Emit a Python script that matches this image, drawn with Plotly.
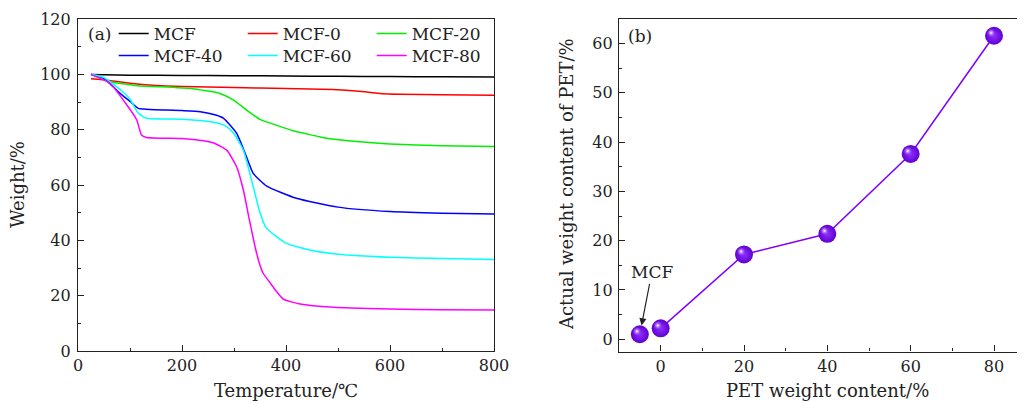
import plotly.graph_objects as go

# ---------------- data: panel (a) TGA curves ----------------
T_MCF = [25, 100, 200, 300, 400, 500, 600, 700, 800]
W_MCF = [99.9, 99.7, 99.6, 99.5, 99.4, 99.3, 99.2, 99.1, 99.0]

T_MCF0 = [25, 60, 100, 150, 200, 300, 400, 490, 540, 580, 620, 700, 800]
W_MCF0 = [98.4, 97.8, 96.8, 96.0, 95.6, 95.2, 94.9, 94.5, 93.9, 93.1, 92.8, 92.6, 92.4]

T_MCF20 = [25, 62, 100, 119, 160, 220, 273, 300, 324, 350, 380, 414, 478, 542, 600, 700, 800]
W_MCF20 = [100, 97.3, 96.2, 95.8, 95.5, 94.8, 93.1, 90.6, 87.1, 83.7, 81.7, 79.6, 76.9, 75.6, 74.8, 74.2, 73.9]

T_MCF40 = [25, 50, 81, 100, 116, 130, 200, 235, 265, 280, 305, 324, 337, 363, 420, 500, 600, 700, 800]
W_MCF40 = [100, 98.5, 93.1, 90.2, 87.7, 87.4, 86.9, 86.5, 85.3, 84.1, 78.7, 70.2, 64.2, 59.6, 55.2, 52.0, 50.4, 49.8, 49.5]

T_MCF60 = [25, 50, 81, 100, 116, 132, 200, 240, 270, 286, 300, 318, 330, 337, 350, 362, 400, 450, 500, 600, 700, 800]
W_MCF60 = [100, 98.8, 94.5, 91.0, 85.9, 84.1, 83.8, 83.2, 82.3, 81.1, 78.5, 72.6, 64.5, 59.4, 50.0, 44.5, 39.0, 36.3, 35.0, 33.9, 33.4, 33.1]

T_MCF80 = [25, 62, 94, 113, 122, 132, 200, 230, 260, 286, 305, 318, 330, 342, 350, 356, 370, 382, 395, 427, 491, 600, 700, 800]
W_MCF80 = [100, 96.7, 88.9, 83.5, 78.1, 77.2, 76.8, 76.3, 75.3, 72.6, 66.6, 58.2, 47.0, 36.5, 31.0, 28.1, 24.5, 21.4, 18.7, 17.0, 15.8, 15.2, 14.9, 14.8]

series_names = ["MCF", "MCF-0", "MCF-20", "MCF-40", "MCF-60", "MCF-80"]
series_T = [T_MCF, T_MCF0, T_MCF20, T_MCF40, T_MCF60, T_MCF80]
series_W = [W_MCF, W_MCF0, W_MCF20, W_MCF40, W_MCF60, W_MCF80]
series_colors = ["#000000", "#ff0000", "#00f000", "#0000ff", "#00ffff", "#ff00ff"]

# ---------------- data: panel (b) ----------------
pet_nominal = [0, 20, 40, 60, 80]
pet_actual = [2.2, 17.2, 21.4, 37.6, 61.6]
mcf_x = [-5]
mcf_y = [1.0]

FONT = "DejaVu Serif"
TXT = "#222"
W, H = 1017, 395      # page body has an 8px margin; this fills the 1025x403 window
OFF = 8


def px(p):   # page x pixel -> paper fraction
    return (p - OFF) / W


def py(p):   # page y pixel (from top) -> paper fraction
    return 1 - (p - OFF) / H


fig = go.Figure()

for i, (n, t, w, c) in enumerate(zip(series_names, series_T, series_W, series_colors)):
    fig.add_trace(go.Scatter(
        x=t, y=w, name=n, mode="lines",
        line=dict(color=c, width=1.5, shape="spline", smoothing=0.5),
        xaxis="x", yaxis="y",
        legend="legend" if i < 3 else "legend2",
    ))

purple = "#7f00ff"
fig.add_trace(go.Scatter(x=pet_nominal, y=pet_actual, mode="lines",
                         line=dict(color=purple, width=1.5), showlegend=False,
                         xaxis="x2", yaxis="y2"))
all_x = mcf_x + pet_nominal
all_y = mcf_y + pet_actual
fig.add_trace(go.Scatter(x=all_x, y=all_y, mode="markers", showlegend=False,
                         marker=dict(size=18, color="#5f00d0",
                                     gradient=dict(type="radial", color="#9030ff"),
                                     line=dict(width=0)),
                         xaxis="x2", yaxis="y2"))
# specular highlight (drawn on an overlay axis pair shifted a few pixels)
fig.add_trace(go.Scatter(x=all_x, y=all_y, mode="markers", showlegend=False,
                         marker=dict(size=9, color="rgba(160,80,255,0)",
                                     gradient=dict(type="radial", color="#ffffff"),
                                     line=dict(width=0)),
                         xaxis="x3", yaxis="y3"))

axis_common = dict(showgrid=False, zeroline=False, linecolor=TXT, linewidth=1.2,
                   ticks="inside", ticklen=6, tickwidth=1.2, tickcolor=TXT,
                   tickfont=dict(family=FONT, size=16, color=TXT),
                   automargin=False)

xa_dom = [px(78), px(494)]
ya_dom = [py(351), py(19)]
xb_dom = [px(619), 1.0]
yb_dom = [py(351.5), py(19)]

title_font = dict(family=FONT, size=18, color=TXT)
legend_font = dict(family=FONT, size=17, color=TXT)

fig.update_layout(
    width=W, height=H,
    margin=dict(l=0, r=0, t=0, b=0),
    paper_bgcolor="white", plot_bgcolor="white",
    font=dict(family=FONT, size=16, color=TXT),
    xaxis=dict(axis_common, domain=xa_dom, range=[0, 800], dtick=200, mirror=True,
               minor=dict(dtick=100, ticks="inside", ticklen=3, tickcolor=TXT),
               anchor="y"),
    yaxis=dict(axis_common, domain=ya_dom, range=[0, 120], dtick=20, mirror=True,
               ticklabelstandoff=3,
               minor=dict(dtick=10, ticks="inside", ticklen=3, tickcolor=TXT),
               anchor="x"),
    xaxis2=dict(axis_common, domain=xb_dom, range=[-10, 87.44], tickvals=[0, 20, 40, 60, 80],
                mirror=True,
                minor=dict(tickvals=[10, 30, 50, 70], ticks="inside", ticklen=3, tickcolor=TXT),
                anchor="y2"),
    yaxis2=dict(axis_common, domain=yb_dom, range=[-2.5, 65], dtick=10,
                ticklabelstandoff=2,
                minor=dict(dtick=5, ticks="inside", ticklen=3, tickcolor=TXT),
                anchor="x2"),
    xaxis3=dict(domain=xb_dom, range=[-9.3, 88.14], overlaying="x2", visible=False, anchor="y3"),
    yaxis3=dict(domain=yb_dom, range=[-3.1, 64.4], overlaying="y2", visible=False, anchor="x3"),
    legend=dict(orientation="h", x=px(113.7), y=py(16), xanchor="left", yanchor="top",
                bgcolor="rgba(0,0,0,0)", font=legend_font,
                entrywidth=84, entrywidthmode="pixels", itemwidth=30,
                tracegroupgap=0),
    legend2=dict(orientation="h", x=px(113.7), y=py(38), xanchor="left", yanchor="top",
                 bgcolor="rgba(0,0,0,0)", font=legend_font,
                 entrywidth=84, entrywidthmode="pixels", itemwidth=30,
                 tracegroupgap=0),
    annotations=[
        dict(text="(a)", xref="paper", yref="paper", x=px(86), y=py(34),
             xanchor="left", yanchor="middle", showarrow=False, font=legend_font),
        dict(text="(b)", xref="paper", yref="paper", x=px(626), y=py(36),
             xanchor="left", yanchor="middle", showarrow=False, font=legend_font),
        dict(text="MCF", x=mcf_x[0], y=mcf_y[0], xref="x2", yref="y2",
             ax=12, ay=-62, showarrow=True, arrowhead=2, arrowsize=1.2, arrowwidth=1.2,
             arrowcolor=TXT, standoff=9, font=dict(family=FONT, size=17, color=TXT)),
        # axis titles
        dict(text="Temperature/℃", xref="paper", yref="paper", x=px(286), y=py(403),
             xanchor="center", yanchor="bottom", showarrow=False, font=title_font),
        dict(text="Weight/%", xref="paper", yref="paper", x=px(18), y=py(185),
             xanchor="center", yanchor="middle", showarrow=False, textangle=-90,
             font=title_font),
        dict(text="PET weight content/%", xref="paper", yref="paper", x=px(827), y=py(403),
             xanchor="center", yanchor="bottom", showarrow=False, font=title_font),
        dict(text="Actual weight content of PET/%", xref="paper", yref="paper",
             x=px(567), y=py(184), xanchor="center", yanchor="middle", showarrow=False,
             textangle=-90, font=title_font),
    ],
)

fig.write_html("out.html")
